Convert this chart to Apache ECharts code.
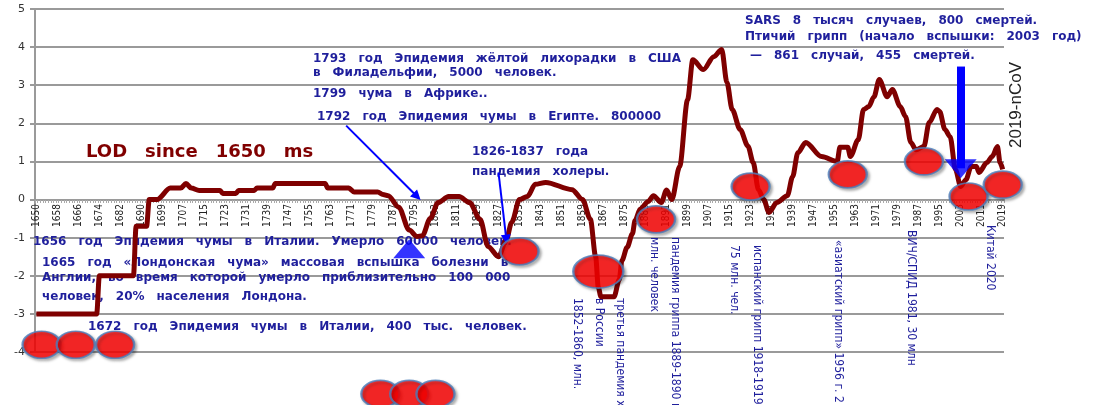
<!DOCTYPE html>
<html>
<head>
<meta charset="utf-8">
<script src="https://cdn.jsdelivr.net/npm/echarts@6/dist/echarts.min.js"></script>
<style>
  html, body { margin: 0; padding: 0; background: #fff; }
  #chart { width: 1103px; height: 405px; }
</style>
</head>
<body>
<div id="chart"></div>
<script>
// category axis: one label per year, the source table skips 1695
const years = [];
for (let y = 1650; y <= 2019; y++) if (y !== 1695) years.push(String(y));

// LOD curve
const lodYears = ['1650','1673','1674','1687','1688','1692','1693','1697','1702','1706','1708','1710','1713','1721','1722','1727','1728','1734','1735','1741','1742','1761','1762','1770','1772','1781','1783','1785','1789','1793','1796','1798','1801','1804','1808','1812','1816','1820','1823','1827','1830','1832','1835','1838','1841','1845','1855','1859','1862','1864','1865','1866','1871','1873','1874','1876','1878','1879','1881','1884','1886','1889','1891','1893','1896','1899','1901','1905','1909','1912','1914','1916','1919','1922','1924','1926','1928','1930','1933','1937','1939','1941','1944','1950','1956','1957','1960','1961','1964','1966','1968','1970','1972','1975','1977','1980','1982','1984','1986','1989','1991','1994','1995','1997','1999','2001','2003','2005','2007','2009','2010','2013','2015','2017','2018','2019'];
const lodValues = [-3,-3,-2,-2,-0.7,-0.7,0,0,0.3,0.3,0.42,0.3,0.24,0.24,0.16,0.16,0.24,0.24,0.3,0.3,0.42,0.42,0.3,0.3,0.2,0.2,0.13,0.1,-0.2,-0.8,-0.97,-0.95,-0.5,-0.08,0.08,0.08,-0.08,-0.52,-1.23,-1.5,-1.05,-0.6,0,0.08,0.4,0.45,0.26,0,-0.52,-1.5,-2.3,-2.55,-2.55,-2.1,-1.6,-1.25,-0.9,-0.55,-0.25,-0.05,0.1,-0.08,0.25,0,0.87,2.62,3.67,3.41,3.75,3.94,3.07,2.36,1.84,1.4,0.97,0.26,0,-0.34,-0.08,0.1,0.6,1.23,1.5,1.13,1.0,1.37,1.37,1.13,1.57,2.36,2.44,2.7,3.15,2.7,2.89,2.44,2.18,1.5,1.31,1.39,2.02,2.36,2.31,1.84,1.65,0.79,0.34,0.52,0.87,0.87,0.71,0.97,1.13,1.39,0.97,0.79];

// red ellipse markers
const markerYears = ['1652','1665','1680','1782','1793','1803','1835','1865','1887','1923','1960','1989','2006','2019'];
const markerValues = [-3.81,-3.81,-3.81,-5.1,-5.1,-5.1,-1.36,-1.89,-0.52,0.34,0.66,1.0,0.08,0.39];

// arrows: thin ones with heads, thick shafts + separate heads
const thinArrowFrom = [['1769', 1.94], ['1827', 0.71]];
const thinArrowTo = [['1796', 0.08], ['1830', -1.05]];
const thickArrowFrom = [['1793', -5.4], ['2003', 3.49]];
const thickArrowTo = [['1793', -1.3], ['2003', 0.82]];
const headYears = ['1793', '2003'];
const headValues = [-1.29, 0.81];

const yTicks = [-4, -3, -2, -1, 0, 1, 2, 3, 4, 5];

const BLUE = '#1f1f9c';
const hText = [
  ['1793 год Эпидемия жёлтой лихорадки в США', 313, 59],
  ['в Филадельфии, 5000 человек.', 313, 73],
  ['1799 чума в Африке..', 313, 94],
  ['1792 год Эпидемия чумы в Египте. 800000', 317, 117],
  ['1826-1837 года', 472, 152],
  ['пандемия холеры.', 472, 172],
  ['SARS 8 тысяч случаев, 800 смертей.', 745, 21],
  ['Птичий грипп (начало вспышки: 2003 год)', 745, 37],
  ['— 861 случай, 455 смертей.', 750, 56],
  ['1656 год Эпидемия чумы в Италии. Умерло 60000 человек.', 33, 242],
  ['1665 год «Лондонская чума» массовая вспышка болезни в', 42, 263],
  ['Англии, во время которой умерло приблизительно 100 000', 42, 278],
  ['человек, 20% населения Лондона.', 42, 297],
  ['1672 год Эпидемия чумы в Италии, 400 тыс. человек.', 88, 327]
];
const vText = [
  ['1852-1860, млн.', 577, 298],
  ['в России', 599, 298],
  ['третья пандемия холеры', 620, 298],
  ['млн. человек', 654, 237],
  ['пандемия гриппа 1889-1890 г.', 675, 237],
  ['75 млн. чел.', 734, 245],
  ['испанский грипп 1918-1919 г.', 757, 245],
  ['«азиатский грипп» 1956 г. 2 млн', 838, 240],
  ['ВИЧ/СПИД 1981, 30 млн', 911, 230],
  ['Китай 2020', 990, 225]
];

// the source shows wide gaps between words, an em space gets close
const wide = s => s.replace(/ /g, '\u2003');

const graphics = [];
hText.forEach(([t, x, y]) => graphics.push({
  type: 'text', x, y, z: 1,
  style: { text: wide(t), fill: BLUE, font: 'bold 12px "DejaVu Sans"', textAlign: 'left', textVerticalAlign: 'middle' }
}));
vText.forEach(([t, x, y]) => graphics.push({
  type: 'text', x, y, rotation: -Math.PI / 2, z: 1,
  style: { text: t, fill: BLUE, font: '12px "DejaVu Sans Condensed"', textAlign: 'left', textVerticalAlign: 'middle' }
}));
graphics.push({
  type: 'text', x: 86, y: 152, z: 1,
  style: { text: wide('LOD since 1650 ms'), fill: '#800000', font: 'bold 18px "DejaVu Sans"', textAlign: 'left', textVerticalAlign: 'middle' }
});
graphics.push({
  type: 'text', x: 1016, y: 148, rotation: Math.PI / 2, z: 1,
  style: { text: '2019-nCoV', fill: '#222', font: '17px "Liberation Sans"', textAlign: 'left', textVerticalAlign: 'middle' }
});

const chart = echarts.init(document.getElementById('chart'), null, { renderer: 'canvas' });
chart.setOption({
  animation: false,
  grid: { left: 35, right: 99, top: 9, bottom: 53 },
  xAxis: {
    type: 'category',
    data: years,
    boundaryGap: true,
    position: 'bottom',
    offset: -152,
    axisLine: { onZero: false, lineStyle: { color: '#9a9a9a', width: 2 } },
    axisTick: { show: true, interval: 0, length: 3, lineStyle: { color: '#aaa' } },
    axisLabel: { interval: 7, rotate: 90, fontSize: 10, color: '#222', fontFamily: 'DejaVu Sans Condensed', margin: 4 },
    splitLine: { show: false }
  },
  yAxis: {
    type: 'value',
    min: yTicks[0],
    max: yTicks[yTicks.length - 1],
    interval: 1,
    axisLine: { show: true, lineStyle: { color: '#9a9a9a', width: 2 } },
    axisTick: { show: true, length: 5, lineStyle: { color: '#9a9a9a', width: 2 } },
    axisLabel: { fontSize: 11, color: '#333', fontFamily: 'DejaVu Sans', margin: 10 },
    splitLine: { lineStyle: { color: '#9a9a9a', width: 2 } }
  },
  graphic: graphics,
  series: [
    {
      name: 'LOD',
      type: 'line',
      data: lodYears.map((y, i) => [y, lodValues[i]]),
      showSymbol: false,
      smooth: 0.3,
      smoothMonotone: 'x',
      lineStyle: { color: '#7f0000', width: 5 },
      z: 3
    },
    {
      name: 'events',
      type: 'scatter',
      clip: false,
      data: markerYears.map((y, i) => [y, markerValues[i]]),
      symbol: 'circle',
      symbolSize: (v) => v[0] === '1865' ? [50, 33] : [38, 27],
      itemStyle: {
        color: '#ff0000', borderColor: '#4a7ebb', borderWidth: 2,
        shadowBlur: 3, shadowColor: 'rgba(0,0,0,0.35)', shadowOffsetX: 2, shadowOffsetY: 2
      },
      z: 5,
      markLine: {
        silent: true,
        animation: false,
        label: { show: false },
        data: [
          ...thinArrowFrom.map((a, i) => [
            { coord: a, symbol: 'none', lineStyle: { color: '#0000ff', width: 2, type: 'solid' } },
            { coord: thinArrowTo[i], symbol: 'triangle', symbolSize: 10 }
          ]),
          ...thickArrowFrom.map((a, i) => [
            { coord: a, symbol: 'none', lineStyle: { color: '#0000ff', width: 8, type: 'solid' } },
            { coord: thickArrowTo[i], symbol: 'none' }
          ])
        ]
      }
    },
    {
      name: 'arrowHeads',
      type: 'scatter',
      clip: false,
      data: headYears.map((y, i) => [y, headValues[i]]),
      symbol: 'triangle',
      symbolSize: [32, 19],
      symbolRotate: (v) => v[0] === '2003' ? 180 : 0,
      itemStyle: { color: '#0000ff' },
      z: 4
    }
  ]
});
</script>
</body>
</html>
